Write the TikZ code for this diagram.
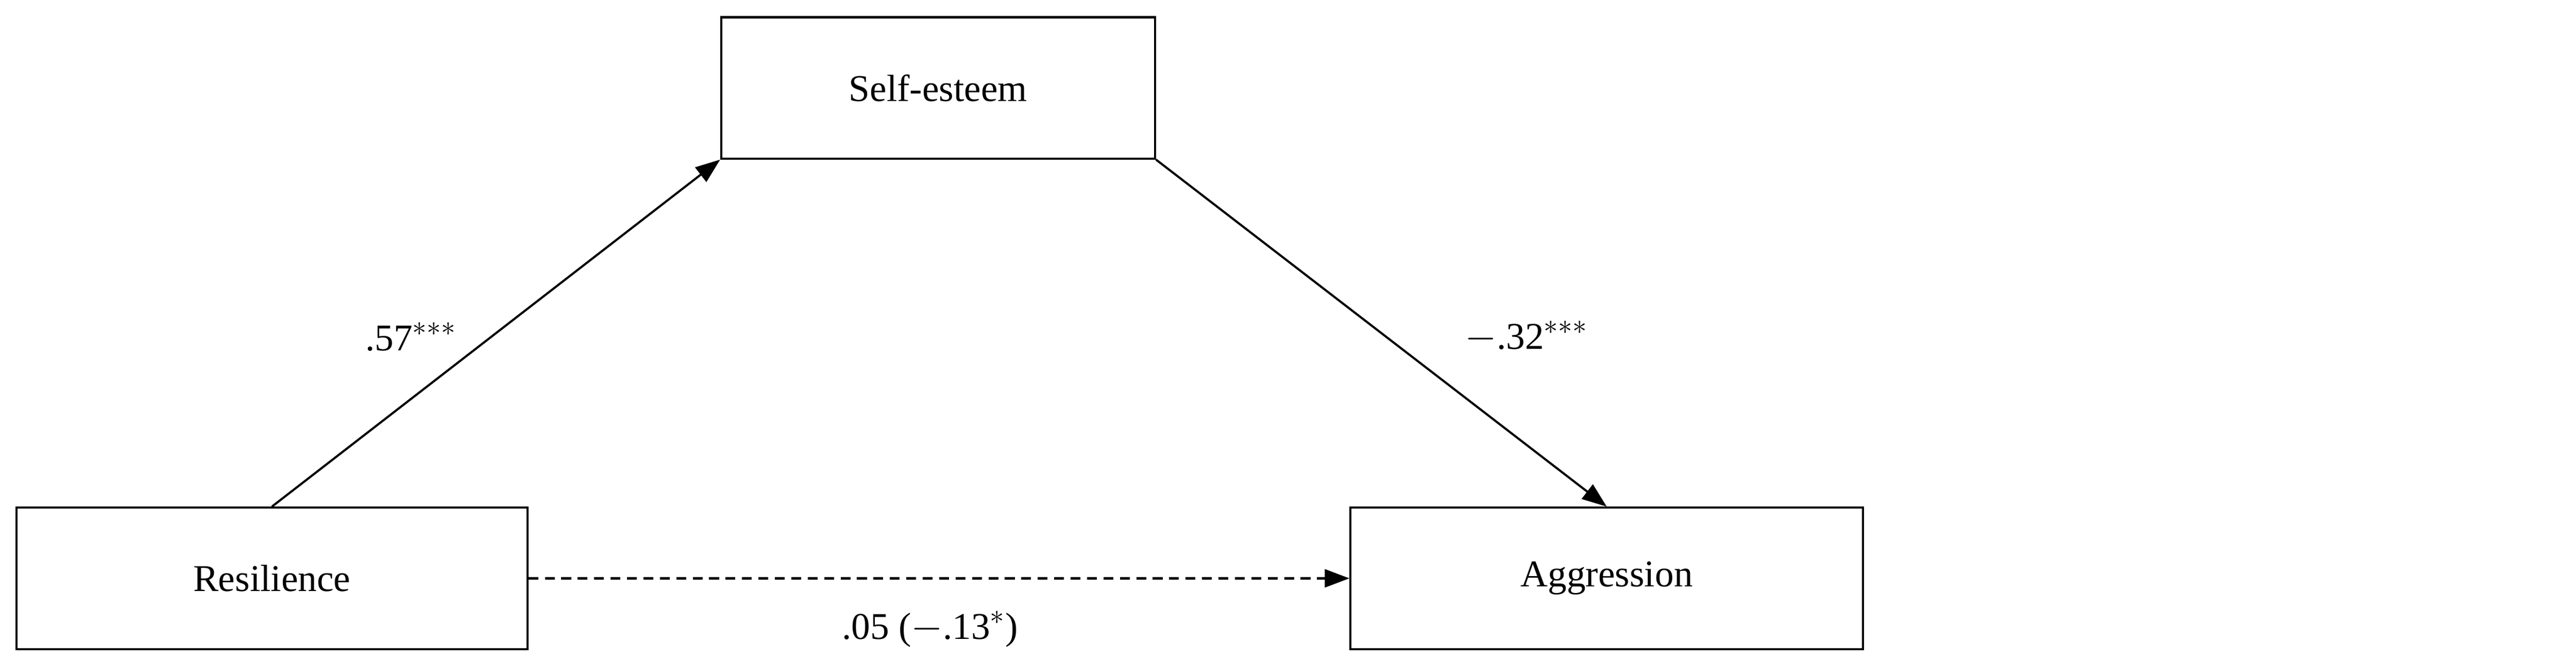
\documentclass[tikz,border=0pt]{standalone}
\usepackage{fontspec}
\setmainfont{Liberation Serif}
\usetikzlibrary{arrows.meta}
\begin{document}
\begin{tikzpicture}[x=1pt,y=-1pt,
  box/.style={draw,line width=1.3pt,minimum width=#1,minimum height=86pt,inner sep=0pt,font=\fontsize{23}{27}\selectfont},
  arr/.style={line width=1.3pt,-{Triangle[length=15pt,width=11pt]}},
  lab/.style={font=\fontsize{23}{27}\selectfont}]
\useasboundingbox (0,0) rectangle (1568,401);
\node[box=264pt] (s) at (571,53.5) {Self-esteem};
\node[box=311pt] (r) at (165.5,352) {Resilience};
\node[box=312pt] (a) at (978,352) {Aggression};
\draw[arr] (r.north) -- (s.south west);
\draw[arr] (s.south east) -- (a.north);
\draw[arr,dashed,dash pattern=on 6pt off 4pt] (r.east) -- (a.west);
\node[lab] (l1) at (250,205) {.57$^{***}$};
\node[lab] (l2) at (929,205) {$-$.32$^{***}$};
\node[lab] (l3) at (566,383) {.05 ($-$.13$^{*}$)};
\end{tikzpicture}
\end{document}
